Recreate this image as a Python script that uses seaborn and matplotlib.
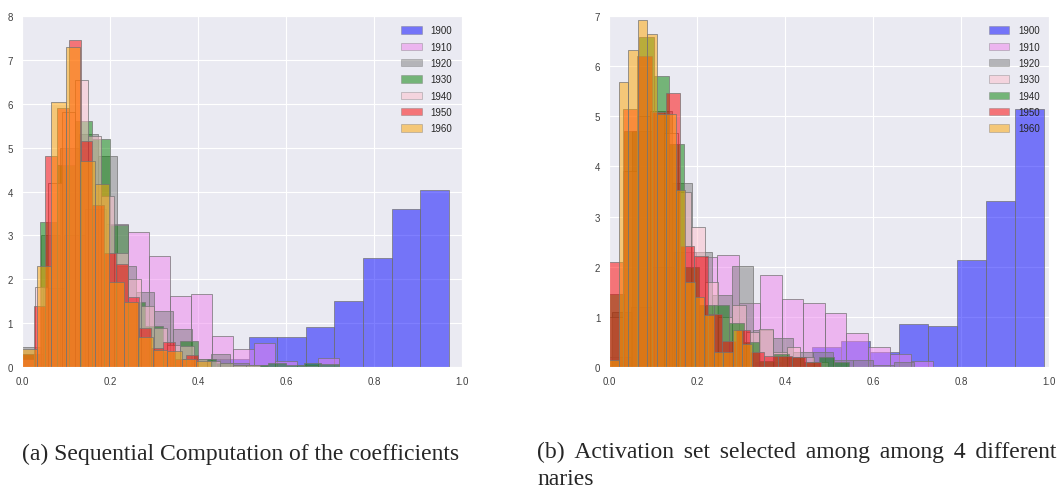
import numpy as np
import pandas as pd
import matplotlib.pyplot as plt
import seaborn as sns
from matplotlib.patches import Patch

sns.set_style("darkgrid")
plt.rcParams['font.family'] = ['Liberation Sans', 'DejaVu Sans']

years = ["1900", "1910", "1920", "1930", "1940", "1950", "1960"]
colors_a = ["blue", "violet", "gray", "green", "pink", "red", "orange"]
colors_b = ["blue", "violet", "gray", "pink", "green", "red", "orange"]

# panel (a): bin range (lo, hi) and bar heights per decade
a_range_1900 = (0.32, 0.97)
a_heights_1900 = [0.05, 0.19, 0.19, 0.70, 0.70, 0.91, 1.52, 2.48, 3.60, 4.04]
a_range_1910 = (0.0, 0.72)
a_heights_1910 = [0.3, 1.8, 3.0, 3.6, 3.26, 3.07, 2.54, 1.62, 1.67, 0.72, 0.42, 0.55, 0.14, 0.05, 0.21]
a_range_1920 = (0.0, 0.559)
a_heights_1920 = [0.47, 3.0, 5.0, 5.3, 4.81, 2.31, 1.72, 1.29, 0.87, 0.2, 0.3, 0.1, 0.05]
a_range_1930 = (0.0, 0.72)
a_heights_1930 = [0.3, 3.3, 4.6, 5.6, 5.2, 3.24, 1.48, 0.95, 0.35, 0.59, 0.2, 0.1, 0.05, 0.05, 0.1, 0.05, 0.1, 0.08]
a_range_1940 = (0.0, 0.54)
a_heights_1940 = [0.2, 1.83, 4.2, 5.8, 6.54, 5.27, 3.9, 2.6, 2.0, 1.4, 0.9, 0.5, 0.49, 0.2, 0.15, 0.1, 0.05, 0.05]
a_range_1950 = (0.0, 0.4)
a_heights_1950 = [0.3, 1.4, 4.81, 5.9, 7.45, 5.16, 3.7, 2.6, 2.35, 1.59, 0.9, 0.45, 0.57, 0.2, 0.28]
a_range_1960 = (0.0, 0.429)
a_heights_1960 = [0.42, 2.31, 6.03, 7.28, 4.7, 4.17, 1.94, 1.48, 0.68, 0.4, 0.38, 0.19, 0.15]

# panel (b)
b_range_1900 = (0.33, 0.988)
b_heights_1900 = [0.1, 0.2, 0.40, 0.53, 0.31, 0.86, 0.82, 2.14, 3.32, 5.15]
b_range_1910 = (0.0, 0.735)
b_heights_1910 = [0.2, 1.2, 2.0, 2.3, 2.2, 2.24, 1.29, 1.84, 1.36, 1.29, 1.08, 0.68, 0.40, 0.26, 0.13]
b_range_1920 = (0.005, 0.692)
b_heights_1920 = [1.1, 4.7, 5.1, 3.67, 2.29, 1.44, 2.01, 0.75, 0.58, 0.3, 0.3, 0.15, 0.15, 0.05, 0.1]
b_range_1930 = (0.0, 0.496)
b_heights_1930 = [1.0, 3.9, 5.0, 5.1, 4.66, 3.5, 2.80, 1.7, 1.0, 1.25, 0.71, 0.76, 0.3, 0.4, 0.2, 0.1]
b_range_1940 = (0.0, 0.544)
b_heights_1940 = [1.46, 4.7, 6.57, 5.80, 4.45, 2.0, 1.25, 1.25, 0.88, 0.5, 0.12, 0.26, 0.2, 0.1, 0.2, 0.1]
b_range_1950 = (0.0, 0.48)
b_heights_1950 = [2.10, 5.15, 6.2, 5.08, 5.46, 2.42, 2.21, 1.06, 0.53, 0.75, 0.3, 0.23, 0.23, 0.2, 0.11]
b_range_1960 = (0.0, 0.324)
b_heights_1960 = [0.14, 5.68, 6.31, 6.92, 6.63, 5.05, 5.05, 3.54, 1.69, 1.39, 1.05, 0.3, 0.3, 0.75, 0.46]

panel_a = [(a_range_1900, a_heights_1900), (a_range_1910, a_heights_1910),
           (a_range_1920, a_heights_1920), (a_range_1930, a_heights_1930),
           (a_range_1940, a_heights_1940), (a_range_1950, a_heights_1950),
           (a_range_1960, a_heights_1960)]
panel_b = [(b_range_1900, b_heights_1900), (b_range_1910, b_heights_1910),
           (b_range_1920, b_heights_1920), (b_range_1930, b_heights_1930),
           (b_range_1940, b_heights_1940), (b_range_1950, b_heights_1950),
           (b_range_1960, b_heights_1960)]

fig = plt.figure(figsize=(10.58, 4.89), dpi=100)
ax_a = fig.add_axes([0.0208, 0.2468, 0.4159, 0.719])
ax_b = fig.add_axes([0.5759, 0.2468, 0.4159, 0.719])


def draw_panel(ax, series, colors, ymax):
    handles = []
    for (rng, heights), col, yr in zip(series, colors, years):
        edges = np.linspace(rng[0], rng[1], len(heights) + 1)
        df = pd.DataFrame({"x": (edges[:-1] + edges[1:]) / 2, "w": heights})
        sns.histplot(data=df, x="x", weights="w", bins=list(edges), color=col, alpha=0.5,
                     edgecolor="0.45", linewidth=0.5, ax=ax)
        handles.append(Patch(facecolor=col, edgecolor="0.45", linewidth=0.5, alpha=0.5, label=yr))
    ax.set_xlim(0, 1)
    ax.set_ylim(0, ymax)
    ax.set_xticks(np.arange(0, 1.01, 0.2))
    ax.set_yticks(range(ymax + 1))
    ax.set_xlabel("")
    ax.set_ylabel("")
    ax.tick_params(labelsize=7, pad=3, colors=".25")
    ax.legend(handles=handles, loc="upper right", frameon=False, fontsize=7,
              handlelength=2.1, handleheight=0.8, handletextpad=0.9,
              labelspacing=0.65, borderaxespad=0.6)


draw_panel(ax_a, panel_a, colors_a, 8)
draw_panel(ax_b, panel_b, colors_b, 7)

serif = ['Liberation Serif', 'DejaVu Serif']
fig.text(22 / 1058, 1 - 454 / 489, "(a) Sequential Computation of the coefficients",
         va="center", ha="left", family=serif, size=17)
# justified first line, as in the typeset caption
gap = " \u2006"
line1 = gap.join(["(b)", "Activation", "set", "selected", "among", "among", "4", "different"])
fig.text(537 / 1058, 1 - 442 / 489, line1 + "\nnaries",
         va="top", ha="left", family=serif, size=17, linespacing=1.35)

fig.savefig("out.png", dpi=100)
